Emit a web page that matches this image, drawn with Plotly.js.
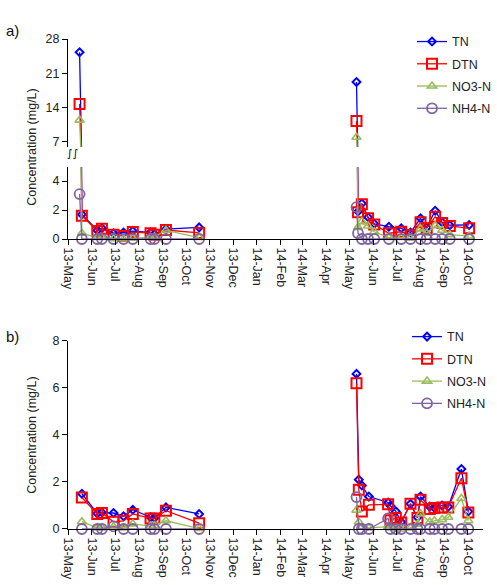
<!DOCTYPE html>
<html>
<head>
<meta charset="utf-8">
<script src="https://cdn.plot.ly/plotly-3.0.1.min.js"></script>
<style>
  html, body { margin: 0; padding: 0; background: #fff; }
  #chart { width: 497px; height: 585px; }
</style>
</head>
<body>
<div id="chart"></div>
<script>
// ---- Site a: sampling dates and nitrogen concentrations (mg/L) ----
const datesA2013 = ['2013-05-16','2013-05-19','2013-06-08','2013-06-14','2013-06-29','2013-07-12','2013-07-24','2013-08-16','2013-08-21','2013-09-05','2013-10-18'];
const tnA2013  = [25.3, 1.7, 0.6, 0.75, 0.4, 0.45, 0.55, 0.45, 0.35, 0.68, 0.8];
const dtnA2013 = [14.7, 1.6, 0.55, 0.7, 0.3, 0.2, 0.48, 0.4, 0.3, 0.62, 0.42];
const no3A2013 = [11.4, 0.4, 0.1, 0.1, 0.02, 0, 0.05, 0.1, 0.15, 0.6, 0.1];
const nh4A2013 = [3.1, 0, 0, 0, 0, 0, 0, 0, 0, 0, 0];

const datesA2014 = ['2014-05-10','2014-05-12','2014-05-17','2014-05-25','2014-06-02','2014-06-21','2014-07-07','2014-07-19','2014-08-01','2014-08-09','2014-08-20','2014-08-29','2014-09-08','2014-10-03'];
const tnA2014  = [19.2, 1.9, 2.45, 1.5, 1.05, 0.85, 0.74, 0.45, 1.43, 0.8, 1.95, 1.15, 0.95, 0.97];
const dtnA2014 = [11.2, 1.84, 2.4, 1.43, 1.0, 0.4, 0.5, 0.28, 1.15, 0.74, 1.54, 1.1, 0.9, 0.74];
const no3A2014 = [7.9, 0.8, 1.2, 0.9, 0.5, 0.1, 0.1, 0.05, 0.7, 0.4, 0.92, 0.6, 0.3, 0.2];
const nh4A2014 = [2.2, 0.4, 0, 0, 0, 0, 0, 0, 0, 0, 0, 0, 0, 0];

// ---- Site b ----
const datesB2013 = ['2013-05-19','2013-06-08','2013-06-14','2013-06-29','2013-07-12','2013-07-24','2013-08-16','2013-08-21','2013-09-05','2013-10-18'];
const tnB2013  = [1.5, 0.66, 0.7, 0.68, 0.54, 0.82, 0.5, 0.47, 0.92, 0.64];
const dtnB2013 = [1.34, 0.64, 0.68, 0.31, 0.35, 0.64, 0.45, 0.45, 0.78, 0.25];
const no3B2013 = [0.31, 0.05, 0.05, 0.1, 0.05, 0.22, 0.12, 0.15, 0.35, 0.02];
const nh4B2013 = [0, 0, 0, 0.11, 0, 0, 0, 0, 0, 0];

const datesB2014 = ['2014-05-10','2014-05-13','2014-05-17','2014-05-26','2014-06-20','2014-06-23','2014-06-30','2014-07-07','2014-07-19','2014-07-28','2014-08-01','2014-08-13','2014-08-19','2014-08-29','2014-09-06','2014-09-23','2014-10-02'];
const tnB2014  = [6.6, 2.1, 1.85, 1.38, 1.13, 0.99, 0.75, 0.3, 1.07, 0.5, 1.38, 0.95, 0.9, 1.0, 0.95, 2.55, 0.75];
const dtnB2014 = [6.2, 1.67, 0.75, 1.03, 1.05, 0.37, 0.47, 0.28, 1.07, 0.47, 1.24, 0.85, 0.89, 0.92, 0.92, 2.16, 0.7];
const no3B2014 = [0.8, 0.3, 0.1, 0.05, 0.1, 0.05, 0, 0, 0.05, 0.2, 0.65, 0.3, 0.35, 0.4, 0.5, 1.3, 0.35];
const nh4B2014 = [1.36, 0, 0, 0, 0.45, 0, 0, 0, 0, 0, 0, 0, 0, 0, 0, 0, 0];

const seriesNames = ['TN', 'DTN', 'NO3-N', 'NH4-N'];
const yTicksUpper = [7, 14, 21, 28];
const yTicksLower = [0, 2, 4];
const yTicksB = [0, 2, 4, 6, 8];

// ---- styling ----
const styles = [
  { color: '#0000FF', symbol: 'diamond-open',     size: 6,  lw: 2 },
  { color: '#FF0000', symbol: 'square-open',      size: 10, lw: 2 },
  { color: '#9BBB59', symbol: 'triangle-up-open', size: 8,  lw: 1.6 },
  { color: '#8064A2', symbol: 'circle-open',      size: 10, lw: 1.8 }
];

// no line is drawn across the winter break between the two campaigns
const gapDate = '2014-01-01';
function join(x13, x14) { return x13.concat([gapDate], x14); }
function joinVals(v13, v14) { return v13.concat([null], v14); }

const xA = join(datesA2013, datesA2014);
const xB = join(datesB2013, datesB2014);
const valsA = [
  joinVals(tnA2013, tnA2014), joinVals(dtnA2013, dtnA2014),
  joinVals(no3A2013, no3A2014), joinVals(nh4A2013, nh4A2014)
];
const valsB = [
  joinVals(tnB2013, tnB2014), joinVals(dtnB2013, dtnB2014),
  joinVals(no3B2013, no3B2014), joinVals(nh4B2013, nh4B2014)
];

function trace(x, y, i, xa, ya, legend, group, show) {
  const s = styles[i];
  return {
    type: 'scatter', mode: 'lines+markers', x: x, y: y,
    name: seriesNames[i], xaxis: xa, yaxis: ya,
    legend: legend, legendgroup: group + i, showlegend: show,
    cliponaxis: false,
    line: { color: s.color, width: 1.3 },
    marker: { symbol: s.symbol, size: s.size, color: s.color,
              line: { color: s.color, width: s.lw } },
    hoverinfo: 'x+y+name'
  };
}

const data = [];
// site a: the same series drawn on the lower and the upper part of the broken axis
for (let i = 0; i < 4; i++) data.push(trace(xA, valsA[i], i, 'x2', 'y2', 'legend', 'a', true));
for (let i = 0; i < 4; i++) data.push(trace(xA, valsA[i], i, 'x2', 'y3', 'legend', 'a', false));
// site b
for (let i = 0; i < 4; i++) data.push(trace(xB, valsB[i], i, 'x', 'y', 'legend2', 'b', true));

const fontFamily = 'Liberation Sans, Arial, sans-serif';
const font = { family: fontFamily, size: 12.5, color: '#222' };

const xCommon = {
  type: 'date', range: ['2013-05-01', '2014-10-21'],
  tick0: '2013-05-01', dtick: 'M1', tickformat: '%y-%b', tickangle: 90,
  ticks: 'outside', ticklen: 5, tickcolor: '#000', tickwidth: 1,
  showline: true, linecolor: '#000', linewidth: 1,
  showgrid: false, zeroline: false, tickfont: font, fixedrange: true,
  automargin: false
};
const yCommon = {
  ticks: 'outside', ticklen: 5, tickcolor: '#000', tickwidth: 1,
  showline: true, linecolor: '#000', linewidth: 1,
  showgrid: false, zeroline: false, tickfont: font, fixedrange: true,
  automargin: false
};

const legendCommon = {
  xref: 'container', yref: 'container',
  xanchor: 'left', yanchor: 'top', bgcolor: 'rgba(0,0,0,0)',
  font: { family: fontFamily, size: 12.5, color: '#222' },
  itemwidth: 30, tracegroupgap: 3
};

const layout = {
  width: 497, height: 585,
  // fixed margins: the legends sit in the right margin without widening it
  margin: { l: 68, r: 14, t: 39, b: 56, autoexpand: false },
  paper_bgcolor: '#fff', plot_bgcolor: 'rgba(0,0,0,0)',
  font: font,
  xaxis:  Object.assign({}, xCommon, { anchor: 'y' }),
  xaxis2: Object.assign({}, xCommon, { anchor: 'y2', matches: 'x' }),
  yaxis:  Object.assign({}, yCommon, { anchor: 'x', domain: [0, 0.3837], range: [0, 8], tickvals: yTicksB }),
  yaxis2: Object.assign({}, yCommon, { anchor: 'x2', domain: [0.5918, 0.7388], range: [0, 4.97], tickvals: yTicksLower }),
  yaxis3: Object.assign({}, yCommon, { anchor: 'x2', domain: [0.7796, 1], range: [5.9, 28], tickvals: yTicksUpper }),
  legend:  Object.assign({}, legendCommon, { x: 0.829, y: 0.954 }),
  legend2: Object.assign({}, legendCommon, { x: 0.819, y: 0.4496 }),
  annotations: [
    { text: 'a)', xref: 'paper', yref: 'paper', x: -0.134, y: 1.018, xanchor: 'center', yanchor: 'middle',
      showarrow: false, font: { family: fontFamily, size: 15, color: '#111' } },
    { text: 'b)', xref: 'paper', yref: 'paper', x: -0.134, y: 0.392, xanchor: 'center', yanchor: 'middle',
      showarrow: false, font: { family: fontFamily, size: 15, color: '#111' } },
    { text: 'Concentration (mg/L)', xref: 'paper', yref: 'paper', x: -0.087, y: 0.78,
      xanchor: 'center', yanchor: 'middle', textangle: -90, showarrow: false, font: font },
    { text: 'Concentration (mg/L)', xref: 'paper', yref: 'paper', x: -0.087, y: 0.192,
      xanchor: 'center', yanchor: 'middle', textangle: -90, showarrow: false, font: font },
    // axis-break mark between the two parts of the site a axis
    { text: '∫∫', xref: 'paper', yref: 'paper', x: 0.011, y: 0.767, xanchor: 'center', yanchor: 'middle',
      showarrow: false, font: { family: 'DejaVu Sans, sans-serif', size: 11, color: '#000' } }
  ]
};

Plotly.newPlot('chart', data, layout, { displayModeBar: false, staticPlot: true });
</script>
</body>
</html>
